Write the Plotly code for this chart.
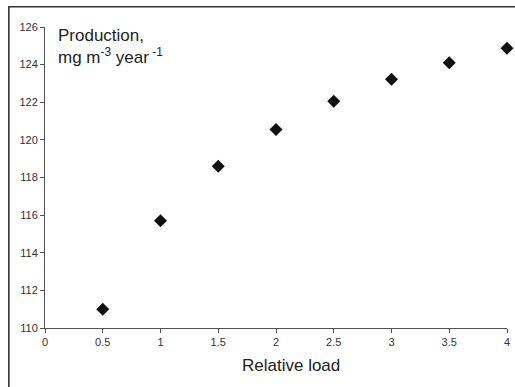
import plotly.graph_objects as go

relative_load = [0.5, 1.0, 1.5, 2.0, 2.5, 3.0, 3.5, 4.0]
production = [111.0, 115.7, 118.6, 120.55, 122.05, 123.22, 124.1, 124.87]

x_ticks = [0, 0.5, 1, 1.5, 2, 2.5, 3, 3.5, 4]
x_tick_labels = ["0", "0.5", "1", "1.5", "2", "2.5", "3", "3.5", "4"]
y_ticks = [110, 112, 114, 116, 118, 120, 122, 124, 126]

W, H = 515, 387
L, R, T = 44.5, 8, 27
B = H - 327.6
pw, ph = W - L - R, H - T - B


def px(x):  # screen x -> paper
    return (x - L) / pw


def py(y):  # screen y -> paper
    return (H - y - B) / ph


fig = go.Figure()
fig.add_trace(go.Scatter(
    x=relative_load, y=production, mode="markers",
    marker=dict(symbol="diamond", size=10, color="#111111", line=dict(width=0)),
    cliponaxis=False, showlegend=False,
))

font_family = "Liberation Sans, Arial, sans-serif"
axis_common = dict(
    showgrid=False, zeroline=False, showline=True, linecolor="#555555", linewidth=1,
    ticks="outside", ticklen=4, tickcolor="#555555", tickwidth=1, automargin=False,
    tickfont=dict(family=font_family, size=11, color="#333333"),
)
fig.update_xaxes(range=[0, 4], tickvals=x_ticks, ticktext=x_tick_labels, **axis_common)
fig.update_yaxes(range=[110, 126], tickvals=y_ticks, ticktext=[str(v) for v in y_ticks], **axis_common)

# outer frame (left and top edges visible)
fig.add_shape(type="rect", xref="paper", yref="paper", x0=px(8.3), x1=1.2, y0=-0.5, y1=py(6.8),
              line=dict(color="#333333", width=1.6), fillcolor="rgba(0,0,0,0)", layer="above")

fig.add_annotation(text="Relative load", xref="paper", yref="paper",
                   x=px(291), y=py(365), xanchor="center", yanchor="middle",
                   showarrow=False, font=dict(family=font_family, size=17, color="#222222"))
fig.add_annotation(text="Production,<br>mg m<sup>-3</sup> year<sup> -1</sup>", xref="paper", yref="paper",
                   x=px(56), y=py(24), xanchor="left", yanchor="top", align="left",
                   showarrow=False, font=dict(family=font_family, size=17, color="#222222"))

fig.update_layout(
    width=W, height=H, margin=dict(l=L, r=R, t=T, b=B, autoexpand=False),
    paper_bgcolor="white", plot_bgcolor="white",
)
fig.write_html(
    "out.html",
    config={"displayModeBar": False},
    post_script="document.body.style.margin='0';document.body.style.overflow='hidden';",
)
